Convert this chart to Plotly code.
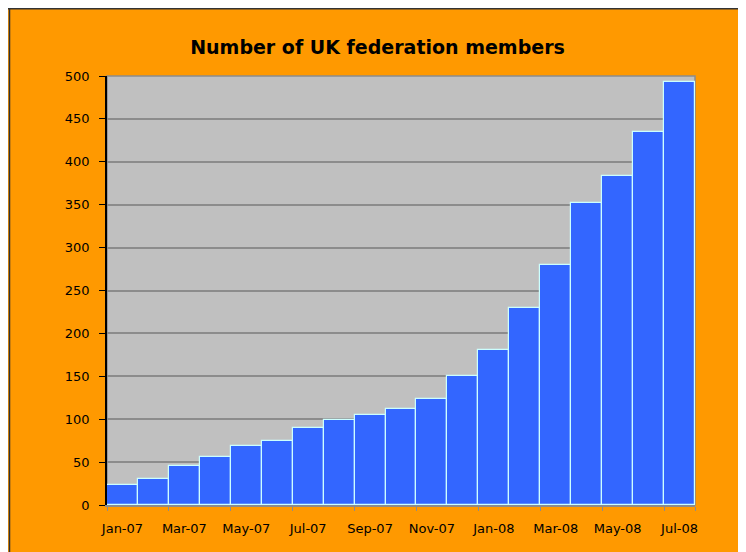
import plotly.graph_objects as go

months = ["Jan-07", "Feb-07", "Mar-07", "Apr-07", "May-07", "Jun-07", "Jul-07",
          "Aug-07", "Sep-07", "Oct-07", "Nov-07", "Dec-07", "Jan-08", "Feb-08",
          "Mar-08", "Apr-08", "May-08", "Jun-08", "Jul-08"]
members = [23, 30, 45, 56, 69, 75, 90, 99, 105, 112, 124, 150, 181, 230,
           280, 352, 384, 435, 493]
y_ticks = [0, 50, 100, 150, 200, 250, 300, 350, 400, 450, 500]

# page has 8px body margin; figure fills the rest of the window
W, H = 738, 544
L, R, T, B = 99, 51, 68, 47
pw, ph = W - L - R, H - T - B

def px2x(px):
    return (px - L) / pw

def py2y(py):
    return (H - B - py) / ph

fig = go.Figure(go.Bar(
    x=months, y=members,
    marker=dict(color="#3366FF", line=dict(color="#CCFFFF", width=1.2)),
    hoverinfo="x+y",
))

shapes = [
    # dark chart border (top and left)
    dict(type="line", xref="paper", yref="paper", x0=px2x(0), x1=px2x(W), y0=py2y(0.75), y1=py2y(0.75),
         line=dict(color="#333333", width=1.5), layer="above"),
    dict(type="line", xref="paper", yref="paper", x0=px2x(1.5), x1=px2x(1.5), y0=py2y(H), y1=py2y(0),
         line=dict(color="#333333", width=1.5), layer="above"),
    # plot area border
    dict(type="rect", xref="paper", yref="paper", x0=0, x1=1, y0=0, y1=1,
         line=dict(color="#8C8C8C", width=1.5), layer="below"),
]

FONT = "DejaVu Sans, Liberation Sans, Arial, sans-serif"

fig.update_layout(
    width=W, height=H,
    margin=dict(l=L, r=R, t=T, b=B, pad=0, autoexpand=False),
    paper_bgcolor="#FF9900",
    plot_bgcolor="#C0C0C0",
    bargap=0,
    showlegend=False,
    title=dict(text="<b>Number of UK federation members</b>", x=369.5 / W, xanchor="center",
               y=1 - 39 / H, yanchor="middle", yref="container", xref="container",
               font=dict(family=FONT, size=19, color="black")),
    font=dict(family=FONT, size=13, color="black"),
    shapes=shapes,
    xaxis=dict(
        type="category", tickmode="array", tickvals=months[::2], ticktext=months[::2],
        ticks="outside", ticklen=4, tickcolor="#8C8C8C", tickson="boundaries",
        showline=True, linecolor="#8C8C8C", linewidth=1.5, tickangle=0, automargin=False,
        showgrid=False, tickfont=dict(size=13), ticklabelstandoff=11,
        range=[-0.5, len(months) - 0.5],
    ),
    yaxis=dict(
        range=[0, 500], tickvals=y_ticks, ticks="outside", ticklen=6, tickcolor="black",
        showline=True, linecolor="black", linewidth=1.5, automargin=False,
        showgrid=True, gridcolor="#8C8C8C", gridwidth=1.5, zeroline=False,
        tickfont=dict(size=13), ticklabelstandoff=7,
    ),
)

fig.write_html("out.html")
